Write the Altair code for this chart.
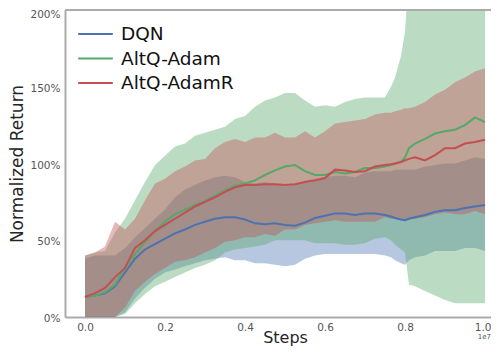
import altair as alt
import pandas as pd

# x positions (in units of 1e7 steps)
steps = [0, 0.025, 0.05, 0.075, 0.1, 0.125, 0.15, 0.175, 0.2, 0.225, 0.25, 0.275, 0.3,
         0.325, 0.35, 0.375, 0.4, 0.425, 0.45, 0.475, 0.5, 0.525, 0.55, 0.575, 0.6,
         0.625, 0.65, 0.675, 0.7, 0.725, 0.75, 0.765, 0.775, 0.79, 0.8, 0.81, 0.825,
         0.85, 0.875, 0.9, 0.925, 0.95, 0.975, 1.0]

series_names = ["DQN", "AltQ-Adam", "AltQ-AdamR"]

# values in percent
dqn_mean = [13, 14, 15.5, 20, 29, 38, 44, 47.5, 51, 54.5, 57, 60, 62, 64, 65, 65, 63.5, 61,
            60.5, 61, 60, 59.5, 61.5, 64.5, 66, 67.5, 67.5, 66.5, 67.5, 67.5, 66.5, 65.5,
            64.5, 63.5, 63, 64, 65, 66.5, 68.5, 69.5, 69.5, 71, 72, 73]
dqn_lo = [0, 0, 0, 0, 3, 12, 19, 25, 29, 31, 33, 35, 37, 38, 39, 37, 37, 35, 35, 34, 33, 34,
          38, 40, 41, 41, 41, 41, 41, 41, 40, 39, 37, 35, 34, 37, 39, 40, 43, 43, 43, 45, 45, 43]
dqn_hi = [38, 40, 40, 40, 45, 52, 58, 64, 70, 78, 83, 86, 89, 91, 92, 91, 88, 87, 88, 87, 85,
          86, 89, 90, 91, 92, 92, 91, 94, 95, 95, 95, 96, 96, 96, 96, 96, 98, 99, 100, 100,
          102, 104, 103]

adam_mean = [13, 14, 16, 21, 32, 41, 49, 56, 62, 67, 70, 73, 75.5, 79, 82.5, 85.5, 87, 89,
             92.5, 95.5, 98, 99, 95, 92.5, 92.5, 94.5, 93.5, 94.5, 97, 97, 98, 99, 100, 101,
             104, 110, 113, 116, 119.5, 121, 122, 125, 130, 127]
adam_lo = [0, 0, 0, 0, 2, 9, 15, 20, 23, 26, 29, 32, 34, 37, 42, 44, 45, 46, 47, 50, 50, 50,
           50, 48, 48, 48, 47, 47, 48, 51, 52, 50, 47, 44, 42, 21, 20, 17, 14, 11, 9, 9, 9, 9]
adam_hi = [40, 42, 43, 55, 64, 76, 88, 99, 105, 111, 113, 118, 120, 122, 124, 129, 131, 137,
           141, 143, 146, 146, 141, 137, 138, 137, 140, 142, 143, 143, 143, 150, 156, 170,
           186, 225, 225, 225, 225, 225, 225, 225, 225, 225]

adamr_mean = [13, 15.5, 19, 26, 32, 45, 50, 56, 60, 64, 68, 72, 75, 78, 81.5, 84.5, 86, 86,
              86.5, 86.5, 86, 86.5, 88, 89, 90.5, 96, 95.5, 94.5, 95, 98, 99, 99.5, 100, 101,
              102, 103, 104, 102, 105.5, 110, 110, 113, 114, 115.5]
adamr_lo = [0, 0, 0, 0, 6, 17, 23, 28, 32, 36, 37, 39, 42, 45, 49, 50, 52, 52, 54, 53, 57, 57,
            60, 61, 62, 63, 62, 62, 62, 62, 65, 64, 64, 63, 63, 64, 64, 65, 67, 68, 67, 67, 69, 67]
adamr_hi = [40, 42, 46, 62, 57, 64, 76, 87, 90, 95, 98, 102, 103, 110, 114, 116, 114, 117,
            117, 120, 117, 117, 121, 117, 121, 126, 127, 128, 129, 132, 133, 133, 134, 135,
            136, 136, 137, 140, 145, 148, 153, 156, 160, 162]

colors = ["#4C72B0", "#55A868", "#C44E52"]
offset_label = ["1e7"]

rows = []
for name, mean, lo, hi in [
    ("DQN", dqn_mean, dqn_lo, dqn_hi),
    ("AltQ-Adam", adam_mean, adam_lo, adam_hi),
    ("AltQ-AdamR", adamr_mean, adamr_lo, adamr_hi),
]:
    for x, m, l, h in zip(steps, mean, lo, hi):
        rows.append({"step": x, "series": name, "order": series_names.index(name),
                     "mean": m / 100, "lo": l / 100, "hi": h / 100})
df = pd.DataFrame(rows)

FONT = "DejaVu Sans"
W, H = 426, 307
xscale = alt.Scale(domain=[-0.05, 1.015], nice=False, zero=False)
yscale = alt.Scale(domain=[0, 2], nice=False, zero=False)
cscale = alt.Scale(domain=series_names, range=colors)

xaxis = alt.Axis(title="Steps", values=[0, 0.2, 0.4, 0.6, 0.8, 1.0], format=".1f",
                 grid=False, ticks=False, labelFontSize=10.5, labelColor="#555555",
                 labelFont=FONT, labelPadding=5, titleFont=FONT, titleFontSize=16,
                 titleFontWeight="normal", titleColor="#262626",
                 titleBaseline="alphabetic", titleY=25, titleX=220,
                 domainColor="#ababab", domainWidth=2,
                 labelFlush=10, labelFlushOffset=6)
yaxis = alt.Axis(title="Normalized Return",
                 values=[0, 0.25, 0.5, 0.75, 1.0, 1.25, 1.5, 1.75, 2.0],
                 format=".0%", grid=False, ticks=False, labelFontSize=10.5,
                 labelColor="#555555", labelFont=FONT, labelPadding=5,
                 labelOffset={"expr": "datum.value >= 2 ? 4 : 1.5"},
                 titleFont=FONT, titleFontSize=17, titleFontWeight="normal",
                 titleColor="#262626", titleX=-48, titleBaseline="middle",
                 domainColor="#ababab", domainWidth=2)

legend = alt.Legend(title=None, orient="none", legendX=12, legendY=14,
                    symbolType="stroke", symbolSize=1200, symbolStrokeWidth=2,
                    symbolOpacity=1, labelFontSize=18.5, labelFont=FONT,
                    labelColor="#111111", labelOffset=7, clipHeight=20,
                    rowPadding=4.5, padding=0)

base = alt.Chart(df)

bands = base.mark_area(opacity=0.4, clip=True).encode(
    x=alt.X("step:Q", scale=xscale, axis=xaxis),
    y=alt.Y("lo:Q", scale=yscale, axis=yaxis),
    y2="hi:Q",
    color=alt.Color("series:N", scale=cscale, sort=series_names, legend=legend),
    order=alt.Order("order:Q"),
)

lines = base.mark_line(strokeWidth=2, clip=True).encode(
    x=alt.X("step:Q", scale=xscale),
    y=alt.Y("mean:Q", scale=yscale),
    color=alt.Color("series:N", scale=cscale, sort=series_names, legend=legend),
)

one = pd.DataFrame({"label": offset_label})
top_spine = alt.Chart(one).mark_rule(color="#ababab", strokeWidth=2).encode(
    x=alt.value(0), x2=alt.value(W), y=alt.value(0))

offset_text = alt.Chart(one).mark_text(align="right", baseline="middle",
                                       fontSize=7, font=FONT, color="#555555").encode(
    text="label:N", x=alt.value(W), y=alt.value(H + 20))

chart = alt.layer(bands, lines, top_spine, offset_text).properties(
    width=W, height=H,
    autosize=alt.AutoSizeParams(type="none"),
    padding={"left": 57, "top": 2, "right": 0, "bottom": 29},
).configure_view(stroke=None).configure(background="white")

chart.save("out.html", embed_options={"renderer": "svg", "actions": False})
